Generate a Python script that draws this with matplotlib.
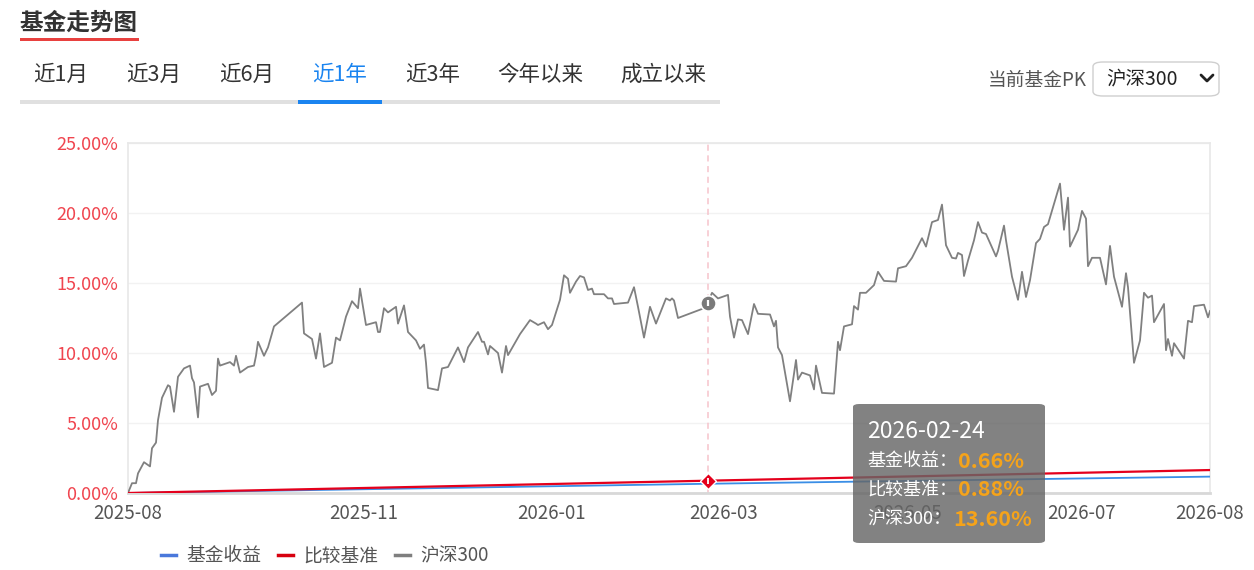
import matplotlib
matplotlib.use("Agg")
import matplotlib.pyplot as plt
from matplotlib.patches import FancyBboxPatch, Rectangle
from matplotlib.lines import Line2D

plt.rcParams['font.family'] = ['Noto Sans CJK SC', 'DejaVu Sans']

# ---------------- data ----------------
series_names = ["基金收益", "比较基准", "沪深300"]

hs300_days = [0, 2, 4, 5, 8, 11, 12, 14, 15, 17, 20, 21, 23, 25, 28, 31, 32, 33, 35, 36,
              40, 42, 44, 45, 46, 51, 53, 54, 56, 60, 63, 64, 65, 68, 70, 73, 87, 88, 92, 94,
              96, 98, 102, 104, 106, 109, 112, 115, 116, 119, 124, 125, 126, 128, 130, 134, 135, 138, 140, 144,
              146, 148, 149, 150, 155, 157, 160, 165, 168, 170, 175, 177, 178, 180, 181, 185, 187, 189, 190, 196,
              201, 204, 205, 208, 210, 212, 216, 218, 220, 221, 224, 226, 228, 230, 232, 233, 238, 240, 242, 243,
              250, 253, 255, 258, 261, 264, 269, 271, 272, 273, 275, 288, 290, 292, 295, 300, 301, 303, 305, 307,
              310, 313, 315, 321, 323, 324, 325, 327, 331, 334, 335, 337, 341, 343, 344, 347, 353, 355, 356, 358,
              362, 363, 365, 366, 369, 373, 375, 378, 384, 385, 389, 392, 397, 399, 402, 405, 407, 409, 412, 414,
              415, 417, 418, 420, 423, 425, 427, 429, 434, 435, 438, 439, 442, 445, 447, 449, 451, 454, 456, 458,
              460, 466, 468, 470, 471, 475, 477, 479, 480, 482, 486, 489, 491, 493, 497, 499, 500, 503, 506, 508,
              510, 512, 513, 518, 519, 520, 522, 523, 528, 530, 532, 533, 538, 540, 541]
hs300_vals = [0.0, 0.7, 0.7, 1.4, 2.2, 1.9, 3.2, 3.6, 5.2, 6.8, 7.7, 7.6, 5.8, 8.3, 8.9, 9.1, 8.2, 7.9, 5.4, 7.6,
              7.8, 7.0, 7.3, 9.6, 9.1, 9.35, 9.1, 9.8, 8.6, 9.0, 9.1, 9.8, 10.8, 9.8, 10.4, 11.9, 13.6, 11.4, 11.0, 9.6,
              11.4, 9.0, 9.3, 11.1, 10.9, 12.6, 13.7, 13.2, 14.6, 12.0, 12.2, 11.5, 11.5, 13.2, 12.9, 13.3, 12.1, 13.4, 11.5, 10.9,
              10.3, 10.6, 9.3, 7.5, 7.35, 8.9, 9.0, 10.4, 9.35, 10.4, 11.5, 10.8, 10.8, 9.9, 10.5, 10.0, 8.6, 10.5, 9.85, 11.35,
              12.35, 12.1, 12.0, 12.2, 11.7, 12.0, 13.8, 15.55, 15.3, 14.3, 15.1, 15.5, 15.4, 14.5, 14.6, 14.2, 14.2, 13.9, 13.9, 13.5,
              13.6, 14.7, 13.3, 11.1, 13.3, 12.1, 13.9, 13.75, 13.9, 13.75, 12.5, 13.2, 13.6, 14.3, 13.9, 14.15, 12.6, 11.1, 12.4, 12.35,
              11.35, 13.5, 12.8, 12.75, 11.9, 12.3, 10.4, 9.85, 6.55, 9.5, 8.1, 8.6, 8.4, 7.4, 9.1, 7.15, 7.1, 10.8, 10.2, 11.9,
              12.05, 13.35, 13.1, 14.3, 14.3, 14.85, 15.8, 15.15, 15.1, 16.05, 16.2, 16.8, 18.2, 17.6, 19.35, 19.5, 20.6, 17.7, 16.8, 16.75,
              17.15, 17.0, 15.5, 16.6, 18.05, 19.35, 18.6, 18.5, 16.9, 17.3, 19.1, 18.05, 15.45, 13.8, 15.8, 14.0, 15.2, 17.85, 18.15, 19.0,
              19.2, 22.1, 18.8, 21.1, 17.6, 18.8, 20.15, 19.6, 16.2, 16.8, 16.8, 14.9, 17.65, 15.45, 13.3, 15.7, 14.7, 9.3, 10.9, 14.3,
              13.95, 14.1, 12.2, 13.5, 10.2, 11.0, 9.8, 10.7, 9.6, 12.3, 12.2, 13.35, 13.45, 12.55, 13.0]

line_days = [0, 290, 541]
fund_vals = [0.0, 0.66, 1.17]
bench_vals = [0.0, 0.88, 1.64]

hover_day = 290
hover_date = "2026-02-24"
hover_fund = 0.66
hover_bench = 0.88
hover_hs300 = 13.60

tick_days = [0, 118, 212, 298, 390, 477, 541]
tick_labels = ["2025-08", "2025-11", "2026-01", "2026-03", "2026-05", "2026-07", "2026-08"]
y_ticks = [0, 5, 10, 15, 20, 25]

tabs = ["近1月", "近3月", "近6月", "近1年", "近3年", "今年以来", "成立以来"]
active_tab = "近1年"

# ---------------- figure ----------------
W, H = 1254, 570
fig = plt.figure(figsize=(W / 100, H / 100), dpi=100)
fig.patch.set_facecolor("white")

def fx(px):
    return px / W

def fy(py):
    return 1 - py / H

ax = fig.add_axes([fx(128), fy(493), fx(1210) - fx(128), fy(143) - fy(493)])
ax.set_xlim(0, 541)
ax.set_ylim(0, 25)

c_blue = "#3a8ee6"
c_red = "#e4001c"
c_gray = "#808080"

ax.plot(hs300_days, hs300_vals, color=c_gray, lw=1.3, solid_joinstyle="round", zorder=3)
ax.plot(line_days, fund_vals, color=c_blue, lw=1.3, zorder=4)
ax.plot(line_days, bench_vals, color=c_red, lw=1.6, zorder=4)

# hover line and markers
ax.axvline(hover_day, color="#f6c4cc", lw=1.1, ls=(0, (4, 3)), zorder=2)
ax.plot([hover_day], [hover_hs300], marker="o", ms=11, color="#7a7a7a", mec="white", mew=1.2, zorder=6)
ax.plot([hover_day], [hover_hs300], marker="|", ms=5, color="white", mew=1.6, zorder=7)
ax.plot([hover_day], [hover_bench], marker="D", ms=8, color=c_red, mec="white", mew=1.0, zorder=6)
ax.plot([hover_day], [hover_bench], marker="|", ms=4, color="white", mew=1.3, zorder=7)
ax.plot([hover_day], [hover_fund], marker="^", ms=5, color=c_blue, mec="white", mew=0.6, zorder=5)

ax.set_yticks(y_ticks)
ax.set_yticklabels([f"{v:.2f}%" for v in y_ticks], color="#f0454f", fontsize=13)
ax.set_xticks(tick_days)
ax.set_xticklabels(tick_labels, color="#555555", fontsize=13.5)
ax.tick_params(axis="both", length=0)
ax.tick_params(axis="y", pad=7)
ax.tick_params(axis="x", pad=7)
ax.grid(axis="y", color="#f2f2f2", lw=1)
ax.set_axisbelow(True)
for side in ["top", "right", "left"]:
    ax.spines[side].set_color("#e8e8e8")
    ax.spines[side].set_linewidth(1.2)
ax.spines["bottom"].set_color("#d8d8d8")
ax.spines["bottom"].set_linewidth(2)

# legend
handles = [Line2D([], [], color="#4a78db", lw=2.5),
           Line2D([], [], color="#d7000f", lw=2.5),
           Line2D([], [], color="#7f7f7f", lw=2.5)]
fig.legend(handles, series_names, loc="center", bbox_to_anchor=(fx(325), fy(556)),
           ncol=3, frameon=False, fontsize=13.5, handlelength=0.8, handletextpad=0.55,
           columnspacing=0.9, labelcolor="#555555")

# ---------------- header ----------------
fig.text(fx(19), fy(23), "基金走势图", fontsize=17, fontweight="bold", color="#333333",
         ha="left", va="center")
fig.add_artist(Rectangle((fx(20), fy(41)), fx(139) - fx(20), fy(38) - fy(41),
                         transform=fig.transFigure, color="#e8413f", lw=0))

tab_centers = [61, 154, 247, 340, 433, 540, 663]
for t, cx in zip(tabs, tab_centers):
    fig.text(fx(cx), fy(75), t, fontsize=15.5, color="#1a84f0" if t == active_tab else "#333333",
             ha="center", va="center")
fig.add_artist(Rectangle((fx(20), fy(104)), fx(720) - fx(20), fy(100) - fy(104),
                         transform=fig.transFigure, color="#e0e0e0", lw=0))
fig.add_artist(Rectangle((fx(298), fy(104)), fx(382) - fx(298), fy(100) - fy(104),
                         transform=fig.transFigure, color="#1a84f0", lw=0))

fig.text(fx(988), fy(80), "当前基金PK", fontsize=13.5, color="#555555", ha="left", va="center")
fig.add_artist(FancyBboxPatch((fx(1093), fy(96)), fx(1219) - fx(1093), fy(62) - fy(96),
                              boxstyle="round,pad=0,rounding_size=0.008",
                              transform=fig.transFigure, facecolor="white",
                              edgecolor="#cfcfcf", lw=1))
fig.text(fx(1106), fy(79), "沪深300", fontsize=14, color="#222222", ha="left", va="center")
fig.add_artist(Line2D([fx(1201), fx(1207), fx(1213)], [fy(75), fy(81), fy(75)],
                      transform=fig.transFigure, color="#222222", lw=2,
                      solid_capstyle="round", solid_joinstyle="round"))

# ---------------- tooltip ----------------
tip = FancyBboxPatch((fx(853), fy(543)), fx(1045) - fx(853), fy(404) - fy(543),
                     boxstyle="round,pad=0,rounding_size=0.005",
                     transform=fig.transFigure, facecolor="#666666", edgecolor="none",
                     alpha=0.82, zorder=10)
fig.add_artist(tip)
fig.text(fx(867), fy(431), hover_date, fontsize=16.5, color="white", ha="left", va="center", zorder=11)
rows = [("基金收益：", hover_fund, 958, 461),
        ("比较基准：", hover_bench, 958, 490),
        ("沪深300：", hover_hs300, 953, 519)]
for lab, val, vx, vy in rows:
    fig.text(fx(867), fy(vy), lab, fontsize=13, color="white", ha="left", va="center", zorder=11)
    fig.text(fx(vx), fy(vy), f"{val:.2f}%", fontsize=15.5, fontweight="bold", color="#f5a31a",
             ha="left", va="center", zorder=11)

fig.savefig("out.png", dpi=100, facecolor="white")
